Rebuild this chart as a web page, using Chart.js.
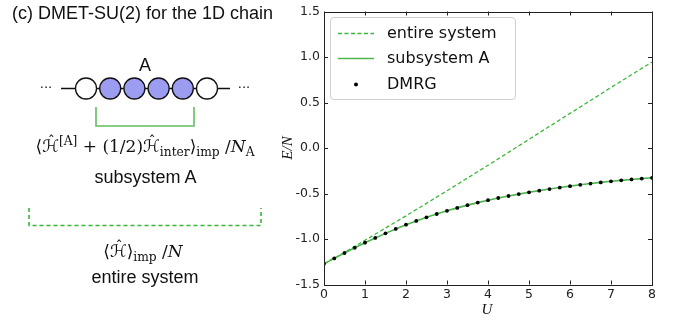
<!DOCTYPE html>
<html>
<head>
<meta charset="utf-8">
<script src="https://cdn.jsdelivr.net/npm/chart.js@4.4.1/dist/chart.umd.min.js"></script>
<style>
  html, body { margin: 0; padding: 0; background: #fff; }
  #wrap { position: relative; width: 684px; height: 320px; overflow: hidden;
          font-family: "Liberation Sans", Arial, sans-serif; color: #111; }
  #plot { position: absolute; left: 0; top: 0; }
  .t { position: absolute; white-space: nowrap; line-height: 1; }
  .c { transform: translate(-50%, -50%); }
  .math { font-family: "DejaVu Serif", "Liberation Serif", serif; font-size: 17px; }
  .cal { font-family: "DejaVu Sans", serif; font-style: normal; position: relative; display: inline-block; }
  .cal .hat { position: absolute; left: 50%; top: -0.28em; transform: translateX(-40%); font-size: 0.85em; }
  .sub { font-size: 0.72em; vertical-align: -0.35em; }
  .sup { font-size: 0.72em; vertical-align: 0.55em; }
  .it { font-style: italic; }
  #legend { position: absolute; left: 330px; top: 17px; width: 184px; height: 81px;
            border: 1px solid #cfcfcf; border-radius: 4px; background: rgba(255,255,255,0.85);
            font-family: "DejaVu Sans", sans-serif; font-size: 16px; color: #111; }
  #legend .row { position: absolute; left: 0; height: 20px; }
  #legend .row svg { position: absolute; left: 6px; top: 0; }
  #legend .row span { position: absolute; left: 56px; top: 50%; transform: translateY(-52%); white-space: nowrap; }
  .axt { font-family: "Liberation Serif", "DejaVu Serif", serif; font-style: italic; font-size: 15px; }
</style>
</head>
<body>
<div id="wrap">
  <canvas id="plot" width="684" height="320" style="width:684px;height:320px"></canvas>

  <div class="t" style="left:12px; top:4px; font-size:18px;">(c) DMET-SU(2) for the 1D chain</div>

  <svg style="position:absolute; left:0; top:0" width="270" height="320">
    <text x="46" y="92" font-family="DejaVu Sans" font-size="13" text-anchor="middle" fill="#111">···</text>
    <text x="244" y="92" font-family="DejaVu Sans" font-size="13" text-anchor="middle" fill="#111">···</text>
    <line x1="61" y1="88.5" x2="230" y2="88.5" stroke="#111" stroke-width="1.5"/>
    <circle cx="86"    cy="88.5" r="10.5" fill="#fff"    stroke="#111" stroke-width="1.3"/>
    <circle cx="110.2" cy="88.5" r="10.5" fill="#9c9cf0" stroke="#111" stroke-width="1.3"/>
    <circle cx="134.4" cy="88.5" r="10.5" fill="#9c9cf0" stroke="#111" stroke-width="1.3"/>
    <circle cx="158.6" cy="88.5" r="10.5" fill="#9c9cf0" stroke="#111" stroke-width="1.3"/>
    <circle cx="182.8" cy="88.5" r="10.5" fill="#9c9cf0" stroke="#111" stroke-width="1.3"/>
    <circle cx="207"   cy="88.5" r="10.5" fill="#fff"    stroke="#111" stroke-width="1.3"/>
    <polyline points="96,107 96,126 194,126 194,107" fill="none" stroke="#62bd62" stroke-width="1.6"/>
    <polyline points="29,208 29,225.5 261,225.5 261,208" fill="none" stroke="#35b835" stroke-width="1.6" stroke-dasharray="4,3"/>
  </svg>

  <div class="t" style="left:145px; top:65px; font-size:18px; transform:translate(-50%,-50%)">A</div>

  <div class="t math c" style="left:145px; top:147px;">⟨<span class="cal">ℋ<span class="hat">ˆ</span></span><span class="sup">[A]</span> + (1/2)<span class="cal">ℋ<span class="hat">ˆ</span></span><span class="sub">inter</span>⟩<span class="sub">imp</span> /<span class="it">N</span><span class="sub">A</span></div>
  <div class="t c" style="left:145.5px; top:177px; font-size:18px;">subsystem A</div>
  <div class="t math c" style="left:143px; top:253px;">⟨<span class="cal">ℋ<span class="hat">ˆ</span></span>⟩<span class="sub">imp</span> /<span class="it">N</span></div>
  <div class="t c" style="left:145px; top:277px; font-size:18px;">entire system</div>

  <div class="t axt c" style="left:287px; top:148px; transform:translate(-50%,-50%) rotate(-90deg);">E/N</div>
  <div class="t axt c" style="left:487px; top:309px;">U</div>

  <div id="legend"></div>
</div>

<script>
// Hubbard chain energy per site E/N against interaction strength U
const U_FINE = [0, 0.25, 0.5, 0.75, 1, 1.25, 1.5, 1.75, 2, 2.25, 2.5, 2.75, 3, 3.25, 3.5, 3.75,
                4, 4.25, 4.5, 4.75, 5, 5.25, 5.5, 5.75, 6, 6.25, 6.5, 6.75, 7, 7.25, 7.5, 7.75, 8];
const U_COARSE = [0, 0.5, 1, 1.5, 2, 2.5, 3, 3.5, 4, 4.5, 5, 5.5, 6, 6.5, 7, 7.5, 8];

// DMET energy of the entire system
const entireSystem = [-1.273, -1.146, -1.014, -0.880, -0.745, -0.608, -0.470, -0.330, -0.190,
                      -0.048, 0.095, 0.238, 0.380, 0.522, 0.665, 0.805, 0.945];
// DMET energy assigned to subsystem A
const subsystemA = [-1.2732, -1.213, -1.154, -1.096, -1.0402, -0.988, -0.938, -0.889, -0.8424,
                    -0.801, -0.762, -0.725, -0.690, -0.658, -0.628, -0.600, -0.5737,
                    -0.5492, -0.5272, -0.5065, -0.487, -0.4685, -0.451, -0.4345, -0.419,
                    -0.4045, -0.3908, -0.3778, -0.366, -0.3555, -0.3457, -0.3363, -0.3275];
// DMRG reference energies
const dmrg = [-1.2732, -1.213, -1.154, -1.096, -1.0402, -0.988, -0.938, -0.889, -0.8424,
              -0.801, -0.762, -0.725, -0.690, -0.658, -0.628, -0.600, -0.5737,
              -0.5492, -0.5272, -0.5065, -0.487, -0.4685, -0.451, -0.4345, -0.419,
              -0.4045, -0.3908, -0.3778, -0.366, -0.3555, -0.3457, -0.3363, -0.3275];

const xTicks = [0, 1, 2, 3, 4, 5, 6, 7, 8];
const yTicks = [-1.5, -1.0, -0.5, 0.0, 0.5, 1.0, 1.5];

const GREEN_DASH = '#3cb93c';
const GREEN_SOLID = '#4cb84c';
const AXIS = '#222';

const pts = (xs, ys) => xs.map((x, i) => ({ x: x, y: ys[i] }));

// frame on all four sides with inward-pointing ticks
const frameTicks = {
  id: 'frameTicks',
  afterDatasetsDraw(chart) {
    const { ctx, chartArea: a, scales } = chart;
    ctx.save();
    ctx.strokeStyle = AXIS;
    ctx.lineWidth = 1;
    ctx.strokeRect(Math.round(a.left) + 0.5, Math.round(a.top) + 0.5,
                   Math.round(a.right - a.left), Math.round(a.bottom - a.top));
    const L = 4;
    ctx.beginPath();
    scales.x.ticks.forEach(t => {
      const px = Math.round(scales.x.getPixelForValue(t.value)) + 0.5;
      ctx.moveTo(px, a.bottom); ctx.lineTo(px, a.bottom - L);
      ctx.moveTo(px, a.top); ctx.lineTo(px, a.top + L);
    });
    scales.y.ticks.forEach(t => {
      const py = Math.round(scales.y.getPixelForValue(t.value)) + 0.5;
      ctx.moveTo(a.left, py); ctx.lineTo(a.left + L, py);
      ctx.moveTo(a.right, py); ctx.lineTo(a.right - L, py);
    });
    ctx.stroke();
    ctx.restore();
  }
};

const chart = new Chart(document.getElementById('plot'), {
  type: 'line',
  data: {
    datasets: [
      { label: 'entire system', data: pts(U_COARSE, entireSystem),
        borderColor: GREEN_DASH, borderWidth: 1.3, borderDash: [4, 2.5],
        pointRadius: 0, fill: false, tension: 0, order: 2 },
      { label: 'subsystem A', data: pts(U_FINE, subsystemA),
        borderColor: GREEN_SOLID, borderWidth: 1.6,
        pointRadius: 0, fill: false, tension: 0, order: 1 },
      { label: 'DMRG', data: pts(U_FINE, dmrg), showLine: false,
        pointStyle: 'circle', pointRadius: 1.9, pointBackgroundColor: '#000',
        pointBorderColor: '#000', pointBorderWidth: 0, order: 0 }
    ]
  },
  options: {
    responsive: false,
    animation: false,
    devicePixelRatio: 1,
    layout: { padding: { left: 270, right: 32, top: 10, bottom: 0 } },
    plugins: { legend: { display: false }, tooltip: { enabled: false } },
    scales: {
      x: {
        type: 'linear', min: 0, max: 8,
        afterBuildTicks: s => { s.ticks = xTicks.map(v => ({ value: v })); },
        afterFit: s => { s.height = 35.5; },
        ticks: { color: AXIS, padding: 3, maxRotation: 0,
                 font: { family: 'DejaVu Sans', size: 12.5 },
                 callback: v => String(v) },
        grid: { display: false, drawTicks: false },
        border: { display: false }
      },
      y: {
        type: 'linear', min: -1.5, max: 1.5,
        afterBuildTicks: s => { s.ticks = yTicks.map(v => ({ value: v })); },
        afterFit: s => { s.width = 54; },
        ticks: { color: AXIS, padding: 4,
                 font: { family: 'DejaVu Sans', size: 12.5 },
                 callback: v => Number(v).toFixed(1) },
        grid: { display: false, drawTicks: false },
        border: { display: false }
      }
    }
  },
  plugins: [frameTicks]
});

// legend built from the chart's datasets
const legend = document.getElementById('legend');
const rowCentres = [14.5, 39.5, 65.5];
chart.data.datasets.forEach((ds, i) => {
  const row = document.createElement('div');
  row.className = 'row';
  row.style.top = (rowCentres[i] - 10) + 'px';
  row.style.width = '100%';
  const ns = 'http://www.w3.org/2000/svg';
  const svg = document.createElementNS(ns, 'svg');
  svg.setAttribute('width', '38'); svg.setAttribute('height', '20');
  if (ds.showLine === false) {
    const c = document.createElementNS(ns, 'circle');
    c.setAttribute('cx', '19'); c.setAttribute('cy', '10.5'); c.setAttribute('r', '2');
    c.setAttribute('fill', ds.pointBackgroundColor);
    svg.appendChild(c);
  } else {
    const l = document.createElementNS(ns, 'line');
    l.setAttribute('x1', '1'); l.setAttribute('x2', '37');
    l.setAttribute('y1', '10.5'); l.setAttribute('y2', '10.5');
    l.setAttribute('stroke', ds.borderColor);
    l.setAttribute('stroke-width', ds.borderWidth);
    if (ds.borderDash) l.setAttribute('stroke-dasharray', ds.borderDash.join(','));
    svg.appendChild(l);
  }
  const span = document.createElement('span');
  span.textContent = ds.label;
  row.appendChild(svg);
  row.appendChild(span);
  legend.appendChild(row);
});
</script>
</body>
</html>
